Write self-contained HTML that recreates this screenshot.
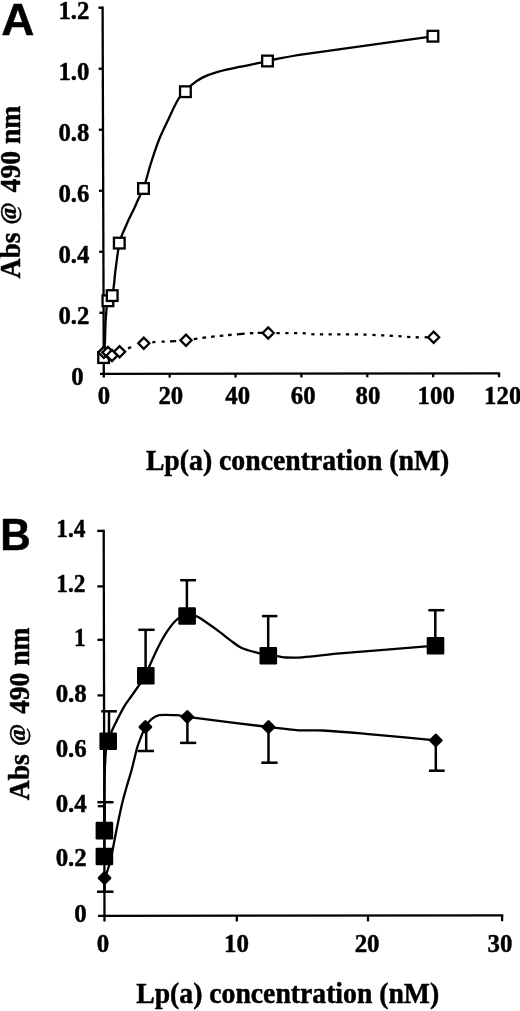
<!DOCTYPE html>
<html lang="en">
<head>
<meta charset="utf-8">
<title>Lp(a) binding curves</title>
<style>
html,body{margin:0;padding:0;background:#fff;}
body{width:520px;height:1011px;overflow:hidden;}
svg{display:block;}
text{fill:#000;stroke:#000;stroke-width:0.45px;stroke-linejoin:round;}
</style>
</head>
<body>
<svg width="520" height="1011" viewBox="0 0 520 1011">
<rect x="0" y="0" width="520" height="1011" fill="#fff"/>
<line x1="102.60" y1="6.55" x2="103.80" y2="377.60" stroke="#000" stroke-width="2.3"/>
<line x1="100.00" y1="373.80" x2="500.15" y2="373.30" stroke="#000" stroke-width="2.3"/>
<line x1="99.40" y1="312.78" x2="103.60" y2="312.78" stroke="#000" stroke-width="2.3"/>
<line x1="99.20" y1="251.77" x2="103.40" y2="251.77" stroke="#000" stroke-width="2.3"/>
<line x1="99.00" y1="190.75" x2="103.20" y2="190.75" stroke="#000" stroke-width="2.3"/>
<line x1="98.80" y1="129.73" x2="103.00" y2="129.73" stroke="#000" stroke-width="2.3"/>
<line x1="98.60" y1="68.72" x2="102.80" y2="68.72" stroke="#000" stroke-width="2.3"/>
<line x1="98.40" y1="7.70" x2="102.60" y2="7.70" stroke="#000" stroke-width="2.3"/>
<line x1="169.67" y1="373.72" x2="169.67" y2="377.62" stroke="#000" stroke-width="2.3"/>
<line x1="235.53" y1="373.63" x2="235.53" y2="377.53" stroke="#000" stroke-width="2.3"/>
<line x1="301.40" y1="373.55" x2="301.40" y2="377.45" stroke="#000" stroke-width="2.3"/>
<line x1="367.27" y1="373.47" x2="367.27" y2="377.37" stroke="#000" stroke-width="2.3"/>
<line x1="433.13" y1="373.38" x2="433.13" y2="377.28" stroke="#000" stroke-width="2.3"/>
<line x1="499.00" y1="373.30" x2="499.00" y2="377.20" stroke="#000" stroke-width="2.3"/>
<text transform="translate(83.60 385.00) scale(1 1.035)" font-size="24.8" font-weight="bold" text-anchor="end" style="font-family:&quot;Liberation Serif&quot;, serif" >0</text>
<text transform="translate(89.40 323.68) scale(1 1.035)" font-size="24.8" font-weight="bold" text-anchor="end" style="font-family:&quot;Liberation Serif&quot;, serif" >0.2</text>
<text transform="translate(89.40 262.67) scale(1 1.035)" font-size="24.8" font-weight="bold" text-anchor="end" style="font-family:&quot;Liberation Serif&quot;, serif" >0.4</text>
<text transform="translate(89.40 201.65) scale(1 1.035)" font-size="24.8" font-weight="bold" text-anchor="end" style="font-family:&quot;Liberation Serif&quot;, serif" >0.6</text>
<text transform="translate(89.40 140.63) scale(1 1.035)" font-size="24.8" font-weight="bold" text-anchor="end" style="font-family:&quot;Liberation Serif&quot;, serif" >0.8</text>
<text transform="translate(89.40 79.62) scale(1 1.035)" font-size="24.8" font-weight="bold" text-anchor="end" style="font-family:&quot;Liberation Serif&quot;, serif" >1.0</text>
<text transform="translate(89.40 18.60) scale(1 1.035)" font-size="24.8" font-weight="bold" text-anchor="end" style="font-family:&quot;Liberation Serif&quot;, serif" >1.2</text>
<text transform="translate(104.00 404.10) scale(1 1.035)" font-size="24.8" font-weight="bold" text-anchor="middle" style="font-family:&quot;Liberation Serif&quot;, serif" >0</text>
<text transform="translate(170.80 404.10) scale(1 1.035)" font-size="24.8" font-weight="bold" text-anchor="middle" style="font-family:&quot;Liberation Serif&quot;, serif" >20</text>
<text transform="translate(237.70 404.10) scale(1 1.035)" font-size="24.8" font-weight="bold" text-anchor="middle" style="font-family:&quot;Liberation Serif&quot;, serif" >40</text>
<text transform="translate(303.20 404.10) scale(1 1.035)" font-size="24.8" font-weight="bold" text-anchor="middle" style="font-family:&quot;Liberation Serif&quot;, serif" >60</text>
<text transform="translate(367.90 404.10) scale(1 1.035)" font-size="24.8" font-weight="bold" text-anchor="middle" style="font-family:&quot;Liberation Serif&quot;, serif" >80</text>
<text transform="translate(436.20 404.10) scale(1 1.035)" font-size="24.8" font-weight="bold" text-anchor="middle" style="font-family:&quot;Liberation Serif&quot;, serif" >100</text>
<text transform="translate(502.70 404.10) scale(1 1.035)" font-size="24.8" font-weight="bold" text-anchor="middle" style="font-family:&quot;Liberation Serif&quot;, serif" >120</text>
<text transform="translate(297.60 469.90) scale(1 1.07)" font-size="27.75" font-weight="bold" text-anchor="middle" style="font-family:&quot;Liberation Serif&quot;, serif" >Lp(a) concentration (nM)</text>
<g transform="translate(20.3 192.7) rotate(-90)" font-weight="bold" style="font-family:&quot;Liberation Serif&quot;, serif"><text transform="translate(-85.8 0) scale(1 1.08)" font-size="27.6">Abs </text><text transform="translate(-31.7 -4.3) scale(1 0.96)" font-size="24">@ </text><text transform="translate(0.3 0) scale(1 1.08)" font-size="27.6">490 nm</text></g>
<text x="1.30" y="34.50" font-size="45" font-weight="bold" text-anchor="start" style="font-family:&quot;Liberation Sans&quot;, sans-serif" transform="translate(2.7 0) scale(1.02 1) translate(-2.7 0)">A</text>
<path d="M103.6 358.2C104.0 353.8 104.6 349.4 104.8 345.0C105.3 336.7 105.1 328.3 105.7 320.0C106.2 313.6 106.2 307.0 107.9 300.8C108.5 298.6 111.7 297.8 112.2 295.6C114.3 287.2 114.3 278.5 115.5 270.0C116.7 261.0 117.7 252.0 119.3 243.1C119.7 240.7 120.7 238.3 121.6 236.0C122.6 233.3 123.9 230.7 125.0 228.0C126.2 225.3 127.3 222.6 128.5 220.0C130.4 216.0 132.5 212.0 134.4 208.0C135.9 204.9 137.1 201.6 138.6 198.5C140.2 195.1 142.3 192.0 143.5 188.5C146.4 180.1 148.3 171.4 151.0 163.0C153.6 154.9 156.2 146.7 159.4 138.8C162.2 131.7 165.7 124.9 169.0 118.0C172.1 111.5 174.9 104.7 178.7 98.5C180.4 95.8 183.2 94.0 185.4 91.7C187.6 89.4 189.5 86.6 192.0 84.6C195.4 81.8 199.0 79.3 202.9 77.4C207.6 75.0 212.6 73.3 217.7 71.8C224.8 69.8 232.0 68.4 239.2 66.9C246.4 65.4 253.6 64.2 260.8 62.7C263.1 62.2 265.3 61.5 267.5 61.0C269.7 60.5 272.0 59.9 274.2 59.5C283.2 57.8 292.1 55.9 301.2 54.6C345.1 48.2 389.0 42.4 432.9 36.3" fill="none" stroke="#000" stroke-width="2.3" stroke-linejoin="round" />
<rect x="98.25" y="352.25" width="10.7" height="10.7" fill="#fff" stroke="#000" stroke-width="2.3"/>
<rect x="102.55" y="295.45" width="10.7" height="10.7" fill="#fff" stroke="#000" stroke-width="2.3"/>
<rect x="106.85" y="290.25" width="10.7" height="10.7" fill="#fff" stroke="#000" stroke-width="2.3"/>
<rect x="113.95" y="237.75" width="10.7" height="10.7" fill="#fff" stroke="#000" stroke-width="2.3"/>
<rect x="138.15" y="183.15" width="10.7" height="10.7" fill="#fff" stroke="#000" stroke-width="2.3"/>
<rect x="180.05" y="86.35" width="10.7" height="10.7" fill="#fff" stroke="#000" stroke-width="2.3"/>
<rect x="262.15" y="55.65" width="10.7" height="10.7" fill="#fff" stroke="#000" stroke-width="2.3"/>
<rect x="427.55" y="30.85" width="10.7" height="10.7" fill="#fff" stroke="#000" stroke-width="2.3"/>
<line x1="103.80" y1="352.40" x2="112.00" y2="355.50" stroke="#000" stroke-width="2.3"/>
<line x1="128.00" y1="348.32" x2="131.10" y2="347.20" stroke="#000" stroke-width="2.3"/>
<line x1="152.30" y1="342.30" x2="155.40" y2="341.97" stroke="#000" stroke-width="2.3"/>
<line x1="161.60" y1="341.63" x2="164.70" y2="341.57" stroke="#000" stroke-width="2.3"/>
<line x1="170.00" y1="341.46" x2="176.20" y2="341.13" stroke="#000" stroke-width="2.3"/>
<line x1="193.70" y1="339.10" x2="197.40" y2="338.55" stroke="#000" stroke-width="2.3"/>
<line x1="202.40" y1="337.87" x2="206.10" y2="337.40" stroke="#000" stroke-width="2.3"/>
<line x1="211.10" y1="336.81" x2="214.70" y2="336.41" stroke="#000" stroke-width="2.3"/>
<line x1="219.70" y1="335.89" x2="223.30" y2="335.53" stroke="#000" stroke-width="2.3"/>
<line x1="228.00" y1="335.07" x2="231.60" y2="334.75" stroke="#000" stroke-width="2.3"/>
<line x1="236.90" y1="334.32" x2="244.70" y2="333.68" stroke="#000" stroke-width="2.3"/>
<line x1="249.90" y1="333.24" x2="253.40" y2="333.04" stroke="#000" stroke-width="2.3"/>
<line x1="257.70" y1="332.88" x2="263.00" y2="332.87" stroke="#000" stroke-width="2.3"/>
<line x1="276.40" y1="333.08" x2="279.80" y2="333.11" stroke="#000" stroke-width="2.3"/>
<line x1="285.30" y1="333.13" x2="288.50" y2="333.14" stroke="#000" stroke-width="2.3"/>
<line x1="294.00" y1="333.16" x2="297.20" y2="333.17" stroke="#000" stroke-width="2.3"/>
<line x1="302.60" y1="333.19" x2="305.80" y2="333.42" stroke="#000" stroke-width="2.3"/>
<line x1="311.30" y1="334.09" x2="314.50" y2="334.30" stroke="#000" stroke-width="2.3"/>
<line x1="319.90" y1="334.32" x2="323.10" y2="334.32" stroke="#000" stroke-width="2.3"/>
<line x1="328.60" y1="334.34" x2="331.80" y2="334.34" stroke="#000" stroke-width="2.3"/>
<line x1="337.20" y1="334.36" x2="340.40" y2="334.36" stroke="#000" stroke-width="2.3"/>
<line x1="345.90" y1="334.37" x2="349.10" y2="334.38" stroke="#000" stroke-width="2.3"/>
<line x1="354.80" y1="334.39" x2="358.00" y2="334.42" stroke="#000" stroke-width="2.3"/>
<line x1="363.40" y1="334.56" x2="366.60" y2="334.67" stroke="#000" stroke-width="2.3"/>
<line x1="372.40" y1="334.93" x2="375.60" y2="335.07" stroke="#000" stroke-width="2.3"/>
<line x1="381.10" y1="335.33" x2="384.30" y2="335.47" stroke="#000" stroke-width="2.3"/>
<line x1="389.70" y1="335.73" x2="392.90" y2="335.89" stroke="#000" stroke-width="2.3"/>
<line x1="398.40" y1="336.21" x2="401.60" y2="336.43" stroke="#000" stroke-width="2.3"/>
<line x1="407.10" y1="336.87" x2="410.30" y2="337.06" stroke="#000" stroke-width="2.3"/>
<line x1="415.70" y1="337.24" x2="418.90" y2="337.30" stroke="#000" stroke-width="2.3"/>
<line x1="424.60" y1="337.30" x2="429.00" y2="337.30" stroke="#000" stroke-width="2.3"/>
<path d="M98.25 352.40L103.80 346.85L109.35 352.40L103.80 357.95Z" fill="#fff" stroke="#000" stroke-width="2.3"/>
<path d="M102.35 352.40L107.90 346.85L113.45 352.40L107.90 357.95Z" fill="#fff" stroke="#000" stroke-width="2.3"/>
<path d="M106.45 355.50L112.00 349.95L117.55 355.50L112.00 361.05Z" fill="#fff" stroke="#000" stroke-width="2.3"/>
<path d="M114.05 351.80L119.60 346.25L125.15 351.80L119.60 357.35Z" fill="#fff" stroke="#000" stroke-width="2.3"/>
<path d="M138.25 343.20L143.80 337.65L149.35 343.20L143.80 348.75Z" fill="#fff" stroke="#000" stroke-width="2.3"/>
<path d="M180.45 340.30L186.00 334.75L191.55 340.30L186.00 345.85Z" fill="#fff" stroke="#000" stroke-width="2.3"/>
<path d="M262.65 333.00L268.20 327.45L273.75 333.00L268.20 338.55Z" fill="#fff" stroke="#000" stroke-width="2.3"/>
<path d="M428.05 337.30L433.60 331.75L439.15 337.30L433.60 342.85Z" fill="#fff" stroke="#000" stroke-width="2.3"/>
<line x1="103.70" y1="529.75" x2="104.50" y2="921.50" stroke="#000" stroke-width="2.3"/>
<line x1="98.00" y1="915.80" x2="503.25" y2="915.40" stroke="#000" stroke-width="2.3"/>
<line x1="97.77" y1="806.20" x2="104.27" y2="806.20" stroke="#000" stroke-width="2.3"/>
<line x1="97.54" y1="695.40" x2="104.04" y2="695.40" stroke="#000" stroke-width="2.3"/>
<line x1="97.43" y1="639.80" x2="103.93" y2="639.80" stroke="#000" stroke-width="2.3"/>
<line x1="97.31" y1="586.40" x2="103.81" y2="586.40" stroke="#000" stroke-width="2.3"/>
<line x1="97.20" y1="530.90" x2="103.70" y2="530.90" stroke="#000" stroke-width="2.3"/>
<line x1="236.80" y1="915.67" x2="236.80" y2="921.47" stroke="#000" stroke-width="2.3"/>
<line x1="368.00" y1="915.53" x2="368.00" y2="921.33" stroke="#000" stroke-width="2.3"/>
<line x1="502.10" y1="915.40" x2="502.10" y2="921.20" stroke="#000" stroke-width="2.3"/>
<text transform="translate(86.80 921.50) scale(1 1.02)" font-size="24.9" font-weight="bold" text-anchor="end" style="font-family:&quot;Liberation Serif&quot;, serif" >0</text>
<text transform="translate(86.80 866.30) scale(1 1.02)" font-size="24.9" font-weight="bold" text-anchor="end" style="font-family:&quot;Liberation Serif&quot;, serif" >0.2</text>
<text transform="translate(86.80 812.10) scale(1 1.02)" font-size="24.9" font-weight="bold" text-anchor="end" style="font-family:&quot;Liberation Serif&quot;, serif" >0.4</text>
<text transform="translate(86.80 756.60) scale(1 1.02)" font-size="24.9" font-weight="bold" text-anchor="end" style="font-family:&quot;Liberation Serif&quot;, serif" >0.6</text>
<text transform="translate(86.80 701.80) scale(1 1.02)" font-size="24.9" font-weight="bold" text-anchor="end" style="font-family:&quot;Liberation Serif&quot;, serif" >0.8</text>
<text transform="translate(85.80 645.70) scale(0.94 1.02)" font-size="24.9" font-weight="bold" text-anchor="end" style="font-family:&quot;Liberation Serif&quot;, serif" >1</text>
<text transform="translate(85.50 592.00) scale(0.94 1.02)" font-size="24.9" font-weight="bold" text-anchor="end" style="font-family:&quot;Liberation Serif&quot;, serif" >1.2</text>
<text transform="translate(85.50 536.50) scale(0.94 1.02)" font-size="24.9" font-weight="bold" text-anchor="end" style="font-family:&quot;Liberation Serif&quot;, serif" >1.4</text>
<text transform="translate(103.00 951.50) scale(1 1.02)" font-size="24.9" font-weight="bold" text-anchor="middle" style="font-family:&quot;Liberation Serif&quot;, serif" >0</text>
<text transform="translate(236.50 951.50) scale(1 1.02)" font-size="24.9" font-weight="bold" text-anchor="middle" style="font-family:&quot;Liberation Serif&quot;, serif" >10</text>
<text transform="translate(367.10 951.50) scale(1 1.02)" font-size="24.9" font-weight="bold" text-anchor="middle" style="font-family:&quot;Liberation Serif&quot;, serif" >20</text>
<text transform="translate(500.00 951.50) scale(1 1.02)" font-size="24.9" font-weight="bold" text-anchor="middle" style="font-family:&quot;Liberation Serif&quot;, serif" >30</text>
<text transform="translate(287.70 1003.30) scale(1 1.07)" font-size="27.7" font-weight="bold" text-anchor="middle" style="font-family:&quot;Liberation Serif&quot;, serif" >Lp(a) concentration (nM)</text>
<g transform="translate(28.8 714.4) rotate(-90)" font-weight="bold" style="font-family:&quot;Liberation Serif&quot;, serif"><text transform="translate(-85.8 0) scale(1 1.08)" font-size="27.6">Abs </text><text transform="translate(-31.7 -4.3) scale(1 0.96)" font-size="24">@ </text><text transform="translate(0.3 0) scale(1 1.08)" font-size="27.6">490 nm</text></g>
<text x="0.00" y="549.70" font-size="45" font-weight="bold" text-anchor="start" style="font-family:&quot;Liberation Sans&quot;, sans-serif" transform="translate(2.7 0) scale(0.935 1) translate(-2.7 0)">B</text>
<line x1="109.00" y1="741.00" x2="109.00" y2="711.30" stroke="#000" stroke-width="2.5"/>
<line x1="101.20" y1="711.30" x2="116.90" y2="711.30" stroke="#000" stroke-width="2.5"/>
<line x1="145.60" y1="675.00" x2="145.60" y2="629.80" stroke="#000" stroke-width="2.5"/>
<line x1="138.30" y1="629.80" x2="154.60" y2="629.80" stroke="#000" stroke-width="2.5"/>
<line x1="186.90" y1="616.00" x2="186.90" y2="580.20" stroke="#000" stroke-width="2.5"/>
<line x1="180.20" y1="580.20" x2="196.00" y2="580.20" stroke="#000" stroke-width="2.5"/>
<line x1="268.20" y1="655.00" x2="268.20" y2="616.10" stroke="#000" stroke-width="2.5"/>
<line x1="261.90" y1="616.10" x2="277.40" y2="616.10" stroke="#000" stroke-width="2.5"/>
<line x1="435.30" y1="645.00" x2="435.30" y2="610.20" stroke="#000" stroke-width="2.5"/>
<line x1="428.30" y1="610.20" x2="444.40" y2="610.20" stroke="#000" stroke-width="2.5"/>
<line x1="104.50" y1="830.00" x2="104.50" y2="802.20" stroke="#000" stroke-width="2.5"/>
<line x1="97.40" y1="802.20" x2="113.50" y2="802.20" stroke="#000" stroke-width="2.5"/>
<line x1="104.50" y1="878.00" x2="104.50" y2="891.70" stroke="#000" stroke-width="2.5"/>
<line x1="97.00" y1="891.70" x2="113.50" y2="891.70" stroke="#000" stroke-width="2.5"/>
<line x1="146.20" y1="727.00" x2="146.20" y2="751.00" stroke="#000" stroke-width="2.5"/>
<line x1="137.60" y1="751.00" x2="154.00" y2="751.00" stroke="#000" stroke-width="2.5"/>
<line x1="187.40" y1="717.00" x2="187.40" y2="742.90" stroke="#000" stroke-width="2.5"/>
<line x1="180.10" y1="742.90" x2="196.20" y2="742.90" stroke="#000" stroke-width="2.5"/>
<line x1="268.50" y1="727.00" x2="268.50" y2="762.70" stroke="#000" stroke-width="2.5"/>
<line x1="261.30" y1="762.70" x2="277.60" y2="762.70" stroke="#000" stroke-width="2.5"/>
<line x1="435.80" y1="740.00" x2="435.80" y2="770.70" stroke="#000" stroke-width="2.5"/>
<line x1="428.90" y1="770.70" x2="444.70" y2="770.70" stroke="#000" stroke-width="2.5"/>
<path d="M104.4 856.5C104.4 847.9 104.4 839.2 104.4 830.6C104.4 820.4 104.4 810.2 104.5 800.0C104.6 790.3 104.6 780.7 104.8 771.0C104.9 767.3 105.1 763.7 105.3 760.0C105.5 756.7 105.5 753.3 106.0 750.0C106.5 747.0 107.3 744.1 108.2 741.2C109.1 738.2 110.0 735.3 111.2 732.4C113.0 728.0 115.2 723.8 117.3 719.6C119.5 715.3 121.5 710.9 124.0 706.8C126.0 703.4 128.5 700.3 130.8 697.0C133.6 693.0 136.4 689.0 139.2 685.0C141.4 681.9 144.0 679.0 145.8 675.7C147.2 673.2 147.7 670.3 148.8 667.7C151.9 660.6 155.0 653.4 158.5 646.5C161.4 640.9 164.4 635.4 168.0 630.2C170.8 626.1 173.7 621.9 177.7 618.9C180.3 616.9 183.9 616.5 187.1 616.0C190.1 615.5 193.3 615.2 196.2 616.1C199.6 617.2 202.4 619.8 205.4 621.8C210.1 625.0 214.7 628.2 219.2 631.6C223.1 634.5 226.9 637.7 230.8 640.6C234.2 643.1 237.4 646.0 241.2 647.7C247.1 650.3 253.4 651.7 259.6 653.5C262.5 654.3 265.3 655.2 268.3 655.7C271.2 656.1 274.1 655.9 277.0 656.2C280.1 656.5 283.1 657.4 286.2 657.5C291.6 657.7 296.9 657.7 302.3 657.3C313.9 656.4 325.4 654.7 337.0 653.7C369.8 650.8 402.7 648.4 435.5 645.7" fill="none" stroke="#000" stroke-width="2.3" stroke-linejoin="round" />
<path d="M104.5 878.0C105.8 874.5 107.5 871.1 108.5 867.5C110.2 861.7 111.3 855.9 112.6 850.0C113.8 844.2 114.8 838.3 116.0 832.5C117.7 824.0 119.4 815.5 121.3 807.0C122.7 801.0 124.3 795.0 126.0 789.0C127.7 782.9 129.7 776.9 131.4 770.8C133.6 762.7 135.2 754.5 137.5 746.5C138.6 742.8 140.1 739.3 141.5 735.8C142.7 732.8 143.7 729.7 145.4 727.0C147.1 724.2 149.0 721.3 151.5 719.2C153.7 717.3 156.3 715.7 159.2 715.2C164.7 714.3 170.4 714.9 176.0 715.2C179.8 715.4 183.5 716.4 187.3 716.9C214.4 720.4 241.4 723.7 268.5 727.0C278.5 728.2 288.5 729.7 298.5 730.3C306.6 730.8 314.6 730.1 322.7 730.5C338.9 731.4 355.0 732.9 371.2 734.3C392.7 736.2 414.3 738.4 435.8 740.4" fill="none" stroke="#000" stroke-width="2.3" stroke-linejoin="round" />
<rect x="95.60" y="847.70" width="17.6" height="17.6" rx="1.2" fill="#000"/>
<rect x="95.60" y="821.80" width="17.6" height="17.6" rx="1.2" fill="#000"/>
<rect x="99.40" y="732.40" width="17.6" height="17.6" rx="1.2" fill="#000"/>
<rect x="137.00" y="666.90" width="17.6" height="17.6" rx="1.2" fill="#000"/>
<rect x="178.30" y="607.20" width="17.6" height="17.6" rx="1.2" fill="#000"/>
<rect x="259.50" y="646.90" width="17.6" height="17.6" rx="1.2" fill="#000"/>
<rect x="426.70" y="636.90" width="17.6" height="17.6" rx="1.2" fill="#000"/>
<path d="M99.00 878.00L104.50 872.50L110.00 878.00L104.50 883.50Z" fill="#000" stroke="#000" stroke-width="2.7" stroke-linejoin="round"/>
<path d="M139.90 727.00L145.40 721.50L150.90 727.00L145.40 732.50Z" fill="#000" stroke="#000" stroke-width="2.7" stroke-linejoin="round"/>
<path d="M181.80 716.90L187.30 711.40L192.80 716.90L187.30 722.40Z" fill="#000" stroke="#000" stroke-width="2.7" stroke-linejoin="round"/>
<path d="M263.00 727.00L268.50 721.50L274.00 727.00L268.50 732.50Z" fill="#000" stroke="#000" stroke-width="2.7" stroke-linejoin="round"/>
<path d="M430.30 740.40L435.80 734.90L441.30 740.40L435.80 745.90Z" fill="#000" stroke="#000" stroke-width="2.7" stroke-linejoin="round"/>
</svg>
</body>
</html>
